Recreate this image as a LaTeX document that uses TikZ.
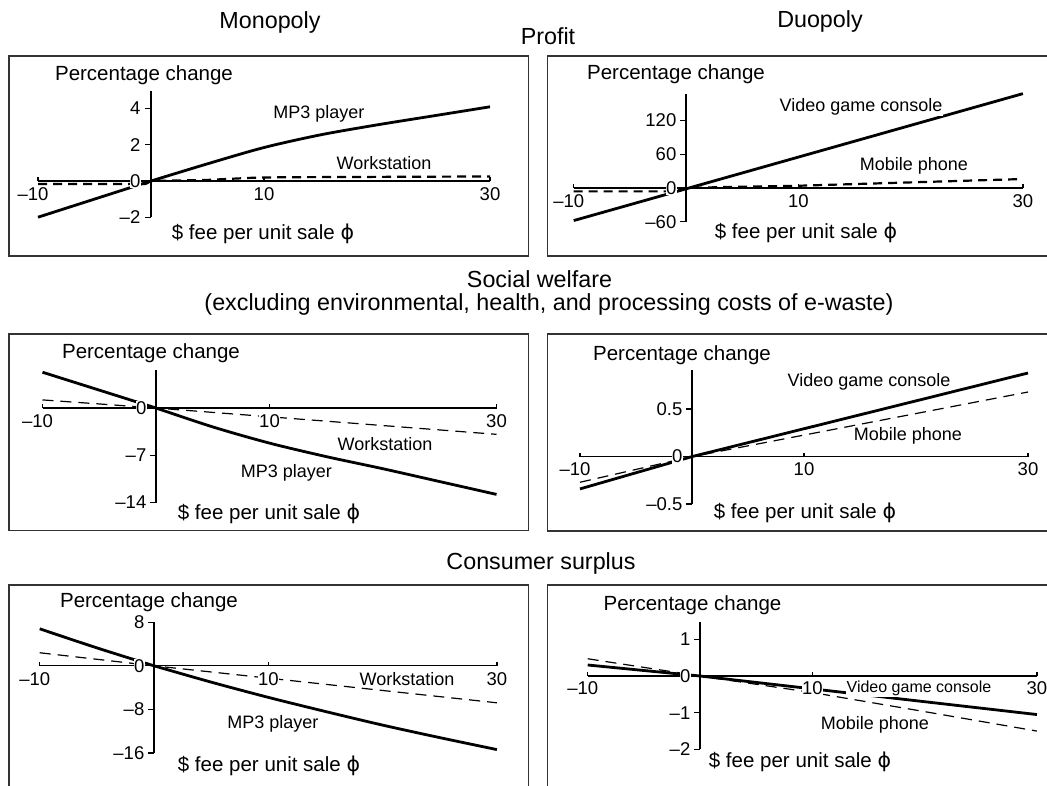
\documentclass[tikz,border=0pt]{standalone}
\usepackage{fontspec}
\setmainfont{Liberation Sans}
\newfontfamily\phifont{DejaVu Sans}
\begin{document}
\tikzset{
 frame/.style={draw=black!80, line width=1.5pt},
 ax/.style={line width=1.3pt},
 curve/.style={line width=2.8pt},
 thickdash/.style={line width=2.2pt, dash pattern=on 9pt off 6pt},
 thindash/.style={line width=1.2pt, dash pattern=on 11pt off 7pt},
 title/.style={font=\fontsize{23.3}{26}\selectfont, inner sep=0pt},
 axtitle/.style={font=\fontsize{20.5}{23}\selectfont, fill=white, inner sep=1pt},
 clab/.style={font=\fontsize{18}{20}\selectfont, fill=white, inner sep=1pt},
 tlab/.style={font=\fontsize{18.5}{20}\selectfont, fill=white, inner sep=0.5pt},
}
\newcommand\feetext{\$ fee per unit sale {\phifont ϕ}}
\begin{tikzpicture}[x=1pt,y=-1pt]
\useasboundingbox (0,0) rectangle (1047,785);
\fill[white] (0,0) rectangle (1047,785);
% titles
\node[title] (tmono) at (270,22) {Monopoly};
\node[title] (tduo) at (820,21) {Duopoly};
\node[title] (tprofit) at (548,36) {Profit};
\node[title] (tsw) at (539.5,279) {Social welfare};
\node[title] (tsw2) at (549,304) {(excluding environmental, health, and processing costs of e-waste)};
\node[title] (tcs) at (541,563) {Consumer surplus};
% frames
\draw[frame] (9,56) rectangle (528.5,256);
\draw[frame] (547.5,56) rectangle (1060,256);
\draw[frame] (9,334) rectangle (528.5,530.5);
\draw[frame] (547.5,334) rectangle (1060,531);
\draw[frame] (9,800) -- (9,585) -- (528.5,585) -- (528.5,800);
\draw[frame] (547.5,800) -- (547.5,585) -- (1060,585);

% ---------- TL: monopoly profit
\begin{scope}[shift={(151,181)}, x=11.3pt, y=18.1pt]
 \draw[ax] (-10,0) -- (30,0);
 \foreach \v in {-10,10,30} \draw[ax] (\v,0) -- ++(0pt,4pt);
 \draw[ax] (0,4.99) -- (0,-2);
 \foreach \v in {4,2,0,-2} \draw[ax] (0,\v) -- ++(-6pt,0pt);
 \draw[curve] (-10,-2) -- (0,0);
 \draw[curve] plot[smooth] coordinates {(0,0)(5,0.95)(10,1.85)(15,2.55)(20,3.1)(25,3.6)(30,4.1)};
 \draw[thickdash] (-10,-0.17) -- (-0.5,-0.17) -- (0,0) -- (5,0.06) -- (9,0.18) -- (12,0.21) -- (30,0.25);
 \foreach \v/\l in {4/4,2/2,0/0,-2/–2} \node[tlab,anchor=east] (tl-y\v) at ([xshift=-10pt]0,\v) {\l};
 \node[tlab] (tl-xm10) at ([xshift=-5pt,yshift=-13pt]-10,0) {–10};
 \node[tlab] (tl-x10) at ([yshift=-13pt]10,0) {10};
 \node[tlab] (tl-x30) at ([yshift=-13pt]30,0) {30};
\end{scope}
\node[axtitle] (tl-pc) at (144,75.5) {Percentage change};
\node[axtitle] (tl-fee) at (263,234) {\feetext};
\node[clab] (tl-mp3) at (319,114) {MP3 player};
\node[clab] (tl-ws) at (384,163) {Workstation};

% ---------- TR: duopoly profit
\begin{scope}[shift={(686,188)}, x=11.23pt, y=0.5617pt]
 \draw[ax] (-10,0) -- (30,0);
 \foreach \v in {-10,10,30} \draw[ax] (\v,0) -- ++(0pt,4pt);
 \draw[ax] (0,167) -- (0,-60);
 \foreach \v in {120,60,0,-60} \draw[ax] (0,\v) -- ++(-6pt,0pt);
 \draw[curve] (-10,-58) -- (30,168);
 \draw[thickdash] (-10,-6) -- (-1,-6) -- (0,0) -- (4,2) -- (10,4) -- (20,10) -- (30,16);
 \foreach \v/\l in {120/120,60/60,0/0,-60/–60} \node[tlab,anchor=east] (tr-y\v) at ([xshift=-9pt]0,\v) {\l};
 \node[tlab] (tr-xm10) at ([xshift=-5pt,yshift=-13pt]-10,0) {–10};
 \node[tlab] (tr-x10) at ([yshift=-13pt]10,0) {10};
 \node[tlab] (tr-x30) at ([yshift=-13pt]30,0) {30};
\end{scope}
\node[axtitle] (tr-pc) at (676,74.5) {Percentage change};
\node[axtitle] (tr-fee) at (806,233) {\feetext};
\node[clab] (tr-vg) at (861,107) {Video game console};
\node[clab] (tr-mp) at (914,166) {Mobile phone};

% ---------- ML: monopoly welfare
\begin{scope}[shift={(156,408)}, x=11.35pt, y=6.75pt]
 \draw[ax] (-10,0) -- (30,0);
 \foreach \v in {-10,10,30} \draw[ax] (\v,0) -- ++(0pt,4pt);
 \draw[ax] (0,5.57) -- (0,-14);
 \foreach \v in {0,-7,-14} \draw[ax] (0,\v) -- ++(-6pt,0pt);
 \draw[curve] (-10,5.3) -- (0,0);
 \draw[curve] plot[smooth] coordinates {(0,0)(5,-2.8)(10,-5.2)(15,-7.2)(20,-9.0)(25,-10.9)(30,-12.8)};
 \draw[thindash] (-10,1.2) -- (0,0) -- (30,-3.9);
 \foreach \v/\l in {0/0,-7/–7,-14/–14} \node[tlab,anchor=east] (ml-y\v) at ([xshift=-9pt]0,\v) {\l};
 \node[tlab] (ml-xm10) at ([xshift=-5pt,yshift=-13pt]-10,0) {–10};
 \node[tlab] (ml-x10) at ([yshift=-13pt]10,0) {10};
 \node[tlab] (ml-x30) at ([yshift=-13pt]30,0) {30};
\end{scope}
\node[axtitle] (ml-pc) at (151,353.5) {Percentage change};
\node[axtitle] (ml-fee) at (269,514) {\feetext};
\node[clab] (ml-ws) at (385,444) {Workstation};
\node[clab] (ml-mp3) at (286.5,473) {MP3 player};

% ---------- MR: duopoly welfare
\begin{scope}[shift={(692,456.6)}, x=11.2pt, y=95pt]
 \draw[ax] (-10,0) -- (30,0);
 \foreach \v in {-10,10,30} \draw[ax] (\v,0) -- ++(0pt,4pt);
 \draw[ax] (0,0.907) -- (0,-0.5);
 \foreach \v in {0.5,0,-0.5} \draw[ax] (0,\v) -- ++(-6pt,0pt);
 \draw[curve] (-10,-0.34) -- (0,0) -- (30,0.88);
 \draw[thindash] (-10,-0.27) -- (0,0) -- (30,0.68);
 \foreach \v/\l in {0.5/0.5,0/0,-0.5/–0.5} \node[tlab,anchor=east] (mr-y\v) at ([xshift=-9pt]0,\v) {\l};
 \node[tlab] (mr-xm10) at ([xshift=-5pt,yshift=-13pt]-10,0) {–10};
 \node[tlab] (mr-x10) at ([yshift=-13pt]10,0) {10};
 \node[tlab] (mr-x30) at ([yshift=-13pt]30,0) {30};
\end{scope}
\node[axtitle] (mr-pc) at (682,355) {Percentage change};
\node[axtitle] (mr-fee) at (805,513) {\feetext};
\node[clab] (mr-vg) at (869,381.6) {Video game console};
\node[clab] (mr-mp) at (908,435.6) {Mobile phone};

% ---------- BL: monopoly consumer surplus
\begin{scope}[shift={(154,665.8)}, x=11.43pt, y=5.44pt]
 \draw[ax] (-10,0) -- (30,0);
 \foreach \v in {-10,10,30} \draw[ax] (\v,0) -- ++(0pt,4pt);
 \draw[ax] (0,8) -- (0,-16);
 \foreach \v in {8,0,-8,-16} \draw[ax] (0,\v) -- ++(-6pt,0pt);
 \draw[curve] plot[smooth] coordinates {(-10,6.8)(-5,3.3)(0,0)};
 \draw[curve] plot[smooth] coordinates {(0,0)(5,-3.0)(10,-5.8)(15,-8.4)(20,-10.9)(25,-13.2)(30,-15.4)};
 \draw[thindash] (-10,2.4) -- (0,0) -- (30,-6.8);
 \foreach \v/\l in {8/8,0/0,-8/–8,-16/–16} \node[tlab,anchor=east] (bl-y\v) at ([xshift=-9pt]0,\v) {\l};
 \node[tlab] (bl-xm10) at ([xshift=-5pt,yshift=-13pt]-10,0) {–10};
 \node[tlab] (bl-x10) at ([yshift=-13pt]10,0) {10};
 \node[tlab] (bl-x30) at ([yshift=-13pt]30,0) {30};
\end{scope}
\node[axtitle] (bl-pc) at (149,602.5) {Percentage change};
\node[axtitle] (bl-fee) at (269,766) {\feetext};
\node[clab] (bl-ws) at (407,678.6) {Workstation};
\node[clab] (bl-mp3) at (273,723.6) {MP3 player};

% ---------- BR: duopoly consumer surplus
\begin{scope}[shift={(700,676)}, x=11.23pt, y=36.7pt]
 \draw[ax] (-10,0) -- (30,0);
 \foreach \v in {-10,10,30} \draw[ax] (\v,0) -- ++(0pt,4pt);
 \draw[ax] (0,1.46) -- (0,-2);
 \foreach \v in {1,0,-1,-2} \draw[ax] (0,\v) -- ++(-6pt,0pt);
 \draw[curve] (-10,0.30) -- (0,0) -- (30,-1.05);
 \draw[thindash] (-10,0.47) -- (0,0) -- (10,-0.45) -- (20,-0.97) -- (30,-1.5);
 \foreach \v/\l in {1/1,0/0,-1/–1,-2/–2} \node[tlab,anchor=east] (br-y\v) at ([xshift=-9pt]0,\v) {\l};
 \node[tlab] (br-xm10) at ([xshift=-5pt,yshift=-12pt]-10,0) {–10};
 \node[tlab] (br-x10) at ([yshift=-12pt]10,0) {10};
 \node[tlab] (br-x30) at ([yshift=-12pt]30,0) {30};
\end{scope}
\node[axtitle] (br-pc) at (692.5,605.3) {Percentage change};
\node[axtitle] (br-fee) at (800,761.5) {\feetext};
\node[clab,font=\fontsize{16}{18}\selectfont] (br-vg) at (919,688.7) {Video game console};
\node[clab] (br-mp) at (875,725.3) {Mobile phone};
\end{tikzpicture}
\end{document}
